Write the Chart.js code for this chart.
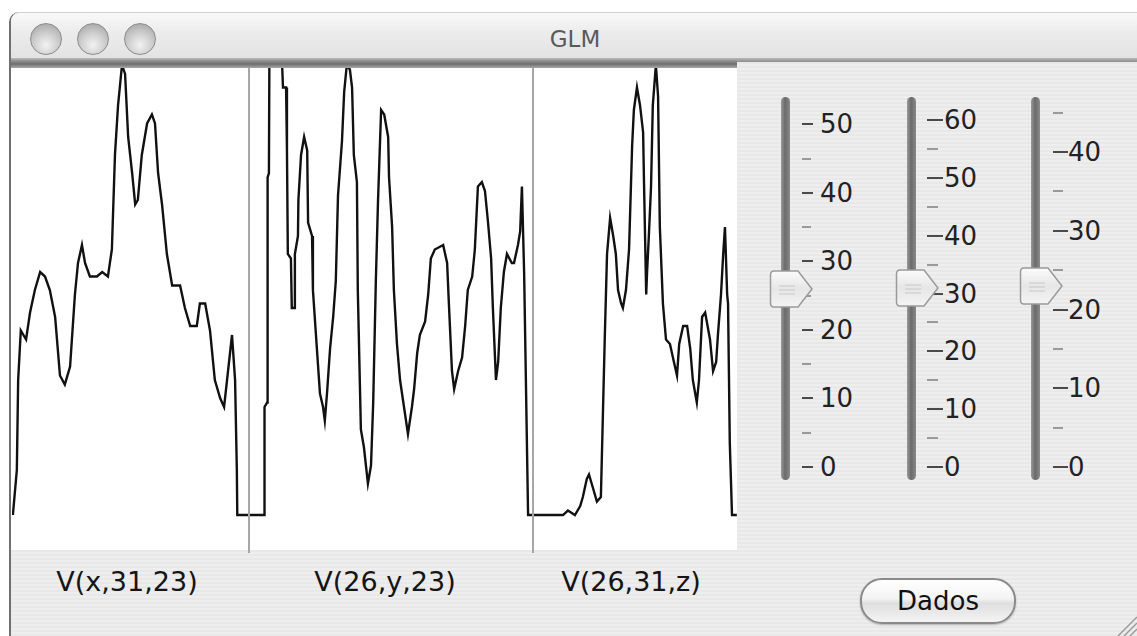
<!DOCTYPE html>
<html>
<head>
<meta charset="utf-8">
<title>GLM</title>
<script src="https://cdn.jsdelivr.net/npm/chart.js@4.4.1/dist/chart.umd.min.js"></script>
<style>
  html, body { margin: 0; padding: 0; width: 1137px; height: 636px; overflow: hidden; background: #fff; font-family: "DejaVu Sans", "Lucida Grande", sans-serif; }
  .abs { position: absolute; }
  #win { left: 9px; top: 12px; width: 1140px; height: 640px; border-left: 2px solid #707070; border-top-left-radius: 10px;
         background: repeating-linear-gradient(to bottom, #eeeeee 0, #eeeeee 2px, #e8e8e8 2px, #e8e8e8 4px); }
  #titlebar { left: 11px; top: 12px; width: 1130px; height: 47px; border-top-left-radius: 9px;
              background: linear-gradient(to bottom, #f9f9f9 0, #ececec 40%, #e2e2e2 100%); border-top: 1px solid #cfcfcf; }
  #titleline { left: 11px; top: 58px; width: 1130px; height: 4px; background: linear-gradient(to bottom, #b8b8b8, #8e8e8e); }
  #title { left: 0; top: 26px; width: 1150px; text-align: center; font-size: 23px; color: #5a5a5a; }
  .light { width: 30px; height: 30px; border-radius: 50%; top: 23px; border: 1px solid #8d8d8d;
           background: radial-gradient(circle at 50% 70%, #f2f2f2 0, #cfcfcf 45%, #9c9c9c 100%); }
  #panel { left: 11px; top: 62px; width: 726px; height: 488px; background: #fff; }
  #panelbar { left: 11px; top: 60px; width: 726px; height: 8px; background: linear-gradient(to bottom, #9a9a9a, #6e6e6e 50%, #a8a8a8); z-index: 5; }
  .sep { top: 66px; width: 2px; height: 487px; background: #a6a6a6; z-index: 4; }
  canvas { position: absolute; z-index: 3; }
  .vlabel { top: 566px; font-size: 27px; color: #151515; white-space: nowrap; transform: translateX(-50%); }
  .track { width: 9px; border-radius: 5px; background: linear-gradient(to right, #9a9a9a, #6a6a6a 45%, #8a8a8a); }
  .tick { height: 2px; background: #4a4a4a; }
  .minor { height: 2px; background: #9a9a9a; }
  .num { font-size: 26px; color: #222; line-height: 30px; transform: translateY(-50%); white-space: nowrap; }
  #btn { left: 860px; top: 578px; width: 152px; height: 42px; border-radius: 22px; border: 2px solid #8a8a8a;
         background: linear-gradient(to bottom, #ffffff 0, #f3f3f3 45%, #dedede 55%, #f4f4f4 100%);
         font-size: 26px; line-height: 42px; text-align: center; color: #111; box-shadow: 0 1px 2px rgba(0,0,0,0.25); }
</style>
</head>
<body>
<div id="win" class="abs"></div>
<div id="titlebar" class="abs"></div>
<div id="titleline" class="abs"></div>
<div id="title" class="abs">GLM</div>
<div class="abs light" style="left:30px"></div>
<div class="abs light" style="left:77px"></div>
<div class="abs light" style="left:124px"></div>
<div id="panel" class="abs"></div>
<div id="panelbar" class="abs"></div>
<div class="abs sep" style="left:248px"></div>
<div class="abs sep" style="left:532px"></div>
<canvas id="chartA" width="237" height="490" style="left:12px; top:63px"></canvas>
<canvas id="chartB" width="283" height="490" style="left:250px; top:63px"></canvas>
<canvas id="chartC" width="203" height="490" style="left:534px; top:63px"></canvas>
<div id="labels"></div>
<div id="sliders"></div>
<div id="btn" class="abs">Dados</div>
<svg class="abs" style="left:1112px; top:612px" width="25" height="24">
  <line x1="6" y1="24" x2="25" y2="5" stroke="#9a9a9a" stroke-width="1.5"/>
  <line x1="12" y1="24" x2="25" y2="11" stroke="#9a9a9a" stroke-width="1.5"/>
  <line x1="18" y1="24" x2="25" y2="17" stroke="#9a9a9a" stroke-width="1.5"/>
</svg>
<script>
// voxel profiles through (26,31,23), values normalised to 100
const panelTitles = ["V(x,31,23)", "V(26,y,23)", "V(26,31,z)"];

const xPosA = [0.2, 1.1, 1.4, 2.0, 3.2, 4.1, 5.2, 6.4, 7.5, 8.6, 9.8, 10.9, 12.0, 13.2, 14.3, 15.0, 15.9, 16.6, 17.7, 19.3,
  20.5, 21.8, 22.7, 23.4, 24.1, 25.0, 25.7, 26.4, 27.3, 28.0, 28.6, 29.5, 30.7, 31.8, 32.5, 33.2, 34.1, 35.2, 36.4, 38.2,
  39.3, 40.5, 42.0, 42.7, 43.9, 45.0, 46.1, 47.3, 48.2, 49.1, 50.0, 50.7, 51.1, 51.2, 53.9];
const valsA = [0, 10, 30, 41, 39, 45, 50, 54, 53, 50, 44, 31, 29, 33, 49, 56, 60, 56, 53, 53,
  54, 53, 59, 80, 91, 100, 98, 84, 76, 69, 70, 80, 87, 89, 87, 76, 69, 58, 51, 51,
  46, 42, 42, 47, 47, 41, 30, 26, 24, 32, 40, 30, 10, 0, 0];

const xPosB = [0, 3.2, 3.3, 3.9, 4.0, 4.3, 4.4, 7.3, 7.5, 8.2, 8.4, 8.6, 9.3, 9.5, 10.0, 10.2, 10.9, 11.0, 11.6, 12.3,
  13.0, 13.2, 14.1, 14.3, 15.2, 15.9, 16.6, 17.0, 17.5, 18.2, 18.9, 19.5, 20.0, 20.9, 21.4, 22.0, 22.7, 23.2, 23.6, 24.3,
  24.5, 25.2, 25.9, 26.8, 27.5, 28.0, 28.6, 29.1, 29.8, 30.5, 31.4, 31.6, 32.3, 32.7, 33.4, 34.1, 35.0, 35.9, 36.8, 37.3,
  38.0, 38.6, 39.8, 40.5, 41.1, 42.0, 43.9, 44.8, 45.2, 45.9, 46.4, 47.3, 48.2, 48.9, 49.5, 50.5, 51.1, 51.8, 52.7, 53.4,
  54.1, 54.8, 55.2, 55.9, 56.4, 57.0, 57.7, 58.4, 59.5, 60.0, 60.9, 61.4, 61.8, 62.3, 62.9, 63.2, 64.3];
const valsB = [0, 0, 24, 25, 75, 76, 100, 100, 95, 95, 81, 58, 57, 46, 46, 58, 62, 70, 80, 84,
  81, 65, 62, 50, 37, 27, 24, 21, 27, 37, 44, 52, 71, 83, 94, 100, 99, 95, 80, 74,
  50, 19, 15, 7, 11, 25, 52, 70, 90, 89, 84, 75, 64, 50, 38, 30, 24, 18, 24, 28,
  36, 40, 43, 49, 57, 59, 60, 56, 47, 32, 28, 32, 35, 42, 50, 53, 59, 73, 74, 72,
  65, 57, 46, 30, 34, 46, 54, 58, 56, 56, 60, 63, 73, 54, 18, 0, 0];

const xPosC = [0, 6.6, 7.7, 9.3, 10.5, 11.1, 12.0, 12.5, 13.4, 14.3, 15.2, 15.7, 16.1, 16.6, 17.3, 18.0, 18.6, 19.1, 19.8, 20.2,
  20.9, 21.6, 22.3, 22.7, 23.4, 24.1, 24.8, 25.0, 25.5, 25.7, 26.1, 26.6, 27.0, 27.7, 28.2, 28.6, 29.3, 30.0, 30.9, 31.8,
  32.5, 33.0, 33.9, 34.8, 35.5, 36.1, 37.0, 37.5, 38.2, 38.9, 40.0, 40.7, 41.4, 41.8, 42.5, 43.0, 43.4, 43.9, 44.1, 44.5,
  45.0, 46.1];
const valsC = [0, 0, 1, 0, 2, 4, 8, 9, 6, 3, 4, 24, 40, 58, 66, 62, 58, 50, 47, 46,
  50, 59, 82, 90, 95, 91, 85, 74, 49, 54, 62, 73, 91, 100, 93, 64, 47, 39, 38, 34,
  31, 38, 42, 42, 37, 30, 25, 30, 44, 45, 39, 32, 34, 40, 49, 58, 64, 49, 47, 16,
  0, 0];

// sliders: axis length and current position
const sliderMax = [54, 64, 47];
const sliderValue = [26, 31, 23];
const tickStep = 5;

(function () {
  const pxPerVoxel = 4.4;
  const charts = [
    { id: "chartA", xs: xPosA, ys: valsA, center: 127 },
    { id: "chartB", xs: xPosB, ys: valsB, center: 385 },
    { id: "chartC", xs: xPosC, ys: valsC, center: 631 }
  ];

  charts.forEach((c, i) => {
    const canvas = document.getElementById(c.id);
    new Chart(canvas.getContext("2d"), {
      type: "line",
      data: {
        datasets: [{
          label: panelTitles[i],
          data: c.xs.map((x, k) => ({ x: x, y: c.ys[k] })),
          borderColor: "#111",
          borderWidth: 2.4,
          pointRadius: 0,
          tension: 0,
          fill: false,
          clip: false
        }]
      },
      options: {
        responsive: false,
        animation: false,
        events: [],
        layout: { padding: 0 },
        plugins: { legend: { display: false }, tooltip: { enabled: false } },
        scales: {
          x: { type: "linear", display: false, min: 0, max: canvas.width / pxPerVoxel },
          y: { display: false, min: -8.44, max: 100.44 }
        }
      }
    });

    const lab = document.createElement("div");
    lab.className = "abs vlabel";
    lab.style.left = c.center + "px";
    lab.textContent = panelTitles[i];
    document.getElementById("labels").appendChild(lab);
  });

  // slider widgets
  const zeroY = 467, topY = 97;
  const layout = [
    { cx: 785, tickX: 802, major: 11, minor: 9, labelX: 820 },
    { cx: 911, tickX: 927, major: 16, minor: 11, labelX: 944 },
    { cx: 1035, tickX: 1053, major: 15, minor: 10, labelX: 1068 }
  ];
  const host = document.getElementById("sliders");
  function add(cls, css, text) {
    const d = document.createElement("div");
    d.className = "abs " + cls;
    d.style.cssText = css;
    if (text != null) d.textContent = text;
    host.appendChild(d);
    return d;
  }
  layout.forEach((s, i) => {
    const per = (zeroY - topY) / sliderMax[i];
    add("track", `left:${s.cx - 4}px; top:${topY}px; height:${480 - topY}px;`);
    for (let v = 0; v <= sliderMax[i]; v += tickStep) {
      const y = Math.round(zeroY - v * per);
      if (v % 10 === 0) {
        add("tick", `left:${s.tickX}px; top:${y - 1}px; width:${s.major}px;`);
        add("num", `left:${s.labelX}px; top:${y}px;`, String(v));
      } else {
        add("minor", `left:${s.tickX}px; top:${y - 1}px; width:${s.minor}px;`);
      }
    }
    const ty = zeroY - sliderValue[i] * per;
    const thumb = document.createElementNS("http://www.w3.org/2000/svg", "svg");
    thumb.setAttribute("width", "46");
    thumb.setAttribute("height", "42");
    thumb.setAttribute("class", "abs");
    thumb.style.left = (s.cx - 16) + "px";
    thumb.style.top = (ty - 20) + "px";
    thumb.innerHTML =
      '<defs><linearGradient id="tg' + i + '" x1="0" y1="0" x2="0" y2="1">' +
      '<stop offset="0" stop-color="#fbfbfb"/><stop offset="0.5" stop-color="#e6e6e6"/><stop offset="1" stop-color="#f4f4f4"/></linearGradient></defs>' +
      '<path d="M5,2 H29 L43,20 L29,38 H5 Q1.5,38 1.5,34 V6 Q1.5,2 5,2 Z" fill="url(#tg' + i + ')" stroke="#9a9a9a" stroke-width="1.5"/>' +
      '<line x1="10" y1="17" x2="26" y2="17" stroke="#c8c8c8"/><line x1="10" y1="21" x2="26" y2="21" stroke="#c8c8c8"/><line x1="10" y1="25" x2="26" y2="25" stroke="#c8c8c8"/>';
    host.appendChild(thumb);
  });
})();
</script>
</body>
</html>
